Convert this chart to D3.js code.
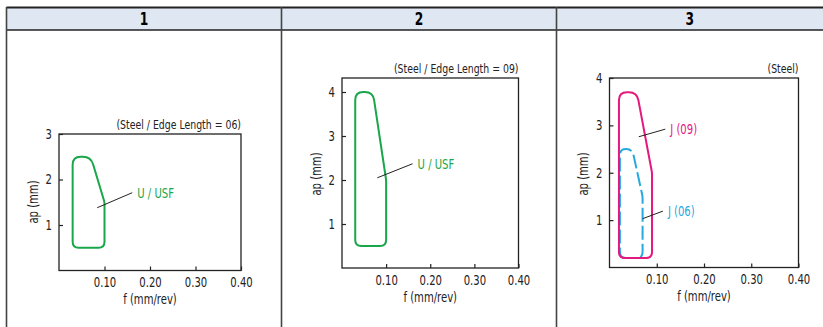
<!DOCTYPE html>
<html>
<head>
<meta charset="utf-8">
<style>
	body { margin: 0; background: #fff; }
	svg text { font-family: "DejaVu Sans Condensed", "DejaVu Sans", sans-serif; }
</style>
<script src="https://d3js.org/d3.v7.min.js"></script>
</head>
<body>
<svg width="823" height="327"></svg>
<script>

// header labels
var headers = ["1", "2", "3"];

// axis ticks
var xTicks = [0.1, 0.2, 0.3, 0.4];
var yTicks1 = [1, 2, 3];
var yTicks2 = [1, 2, 3, 4];
var yTicks3 = [1, 2, 3, 4];

// working ranges (f, ap)
var usf06 = [[0.03, 0.5], [0.03, 2.5], [0.07, 2.5], [0.1, 1.5], [0.1, 0.5]];
var usf09 = [[0.03, 0.5], [0.03, 4.0], [0.07, 4.0], [0.1, 2.0], [0.1, 0.5]];
var j09 = [[0.02, 0.2], [0.02, 3.7], [0.058, 3.7], [0.09, 2.0], [0.09, 0.2]];
var j06 = [[0.022, 0.2], [0.022, 2.5], [0.048, 2.5], [0.07, 1.5], [0.07, 0.2]];

// leader lines: [from, to]
var lead06 = [[0.084, 1.38], [0.161, 1.71]];
var lead09 = [[0.08, 2.05], [0.16, 2.37]];
var leadJ09 = [[0.062, 2.76], [0.118, 2.92]];
var leadJ06 = [[0.07, 1.03], [0.113, 1.19]];

var subtitles = ["(Steel / Edge Length = 06)", "(Steel / Edge Length = 09)", "(Steel)"];

var green = "#1aa64a", pink = "#e5187f", blue = "#27a9e0";

var svg = d3.select("svg");

// narrow the font a bit (reference uses a condensed face)
function squeeze(sel, extra) {
	sel.each(function() {
		var t = d3.select(this);
		var x = +t.attr("x") || 0, y = +t.attr("y") || 0;
		t.attr("x", null).attr("y", null)
			.attr("transform", "translate(" + x + "," + y + ")" + (extra || "") + " scale(0.8,1)");
	});
}

// table frame
var cols = [6.5, 281.5, 556.5, 823];
svg.append("rect").attr("x", cols[0]).attr("y", 7.5).attr("width", 823 - cols[0]).attr("height", 22.5)
	.attr("fill", "#dfe7f3");
svg.append("line").attr("x1", cols[0]).attr("x2", 823).attr("y1", 7.5).attr("y2", 7.5)
	.attr("stroke", "#222").attr("stroke-width", 2);
svg.append("line").attr("x1", cols[0]).attr("x2", 823).attr("y1", 30).attr("y2", 30)
	.attr("stroke", "#222").attr("stroke-width", 1.5);
cols.slice(0, 3).forEach(function(c) {
	svg.append("line").attr("x1", c).attr("x2", c).attr("y1", 7).attr("y2", 327)
		.attr("stroke", "#444").attr("stroke-width", 1.6);
});
headers.forEach(function(h, i) {
	svg.append("text").attr("x", (cols[i] + cols[i + 1]) / 2).attr("y", 19).attr("dy", "0.36em")
		.attr("text-anchor", "middle").attr("font-size", 17).attr("font-weight", "bold").text(h)
		.call(squeeze);
});

// rounded polygon through scaled points
function rounded(pts, radii) {
	var n = pts.length, d = "";
	for (var i = 0; i < n; i++) {
		var p = pts[i], a = pts[(i - 1 + n) % n], b = pts[(i + 1) % n];
		var la = Math.hypot(a[0] - p[0], a[1] - p[1]), lb = Math.hypot(b[0] - p[0], b[1] - p[1]);
		var r = Math.min(radii[i], la / 2, lb / 2);
		var p1 = [p[0] + (a[0] - p[0]) * r / la, p[1] + (a[1] - p[1]) * r / la];
		var p2 = [p[0] + (b[0] - p[0]) * r / lb, p[1] + (b[1] - p[1]) * r / lb];
		d += (i == 0 ? "M" : "L") + p1[0] + "," + p1[1] + "Q" + p[0] + "," + p[1] + " " + p2[0] + "," + p2[1];
	}
	return d + "Z";
}

function panel(opt) {
	var x = d3.scaleLinear().domain([0, 0.4]).range([opt.left, opt.right]);
	var y = d3.scaleLinear().domain([0, opt.ymax]).range([opt.bottom, opt.yTop]);
	var g = svg.append("g");

	g.append("rect").attr("x", opt.left).attr("y", opt.top)
		.attr("width", opt.right - opt.left).attr("height", opt.bottom - opt.top)
		.attr("fill", "none").attr("stroke", "#222").attr("stroke-width", 1.3);

	var ax = g.append("g").attr("transform", "translate(0," + opt.bottom + ")")
		.call(d3.axisBottom(x).tickValues(xTicks).tickSizeInner(-4).tickSizeOuter(0).tickPadding(7));
	var ay = g.append("g").attr("transform", "translate(" + opt.left + ",0)")
		.call(d3.axisLeft(y).tickValues(opt.yTicks).tickFormat(d3.format("d")).tickSizeInner(-4).tickSizeOuter(0).tickPadding(7));
	[ax, ay].forEach(function(a) {
		a.select(".domain").remove();
		a.selectAll("line").attr("stroke", "#222").attr("stroke-width", 1.2);
		a.selectAll("text").attr("font-size", 14).attr("fill", "#222")
			.style("font-family", '"DejaVu Sans Condensed", "DejaVu Sans", sans-serif')
			.call(squeeze);
	});

	g.append("text").attr("x", (opt.left + opt.right) / 2).attr("y", opt.bottom + 29).attr("dy", "0.35em")
		.attr("text-anchor", "middle").attr("font-size", 14).attr("fill", "#222").text("f (mm/rev)")
		.call(squeeze);
	g.append("text").attr("x", opt.left - 26).attr("y", opt.ylabelY)
		.attr("dy", "0.35em").attr("text-anchor", "middle").attr("font-size", 14).attr("fill", "#222").text("ap (mm)")
		.call(squeeze, " rotate(-90)");
	g.append("text").attr("x", opt.right).attr("y", opt.top - 10).attr("dy", "0.35em")
		.attr("text-anchor", "end").attr("font-size", 13).attr("fill", "#222").text(opt.subtitle)
		.call(squeeze);

	opt.shapes.forEach(function(s) {
		var pts = s.data.map(function(d) { return [x(d[0]), y(d[1])]; });
		g.append("path").attr("d", rounded(pts, [6, 8, 8, 2, 6]))
			.attr("fill", "none").attr("stroke", s.color).attr("stroke-width", 2)
			.attr("stroke-dasharray", s.dash || null);
	});
	opt.shapes.forEach(function(s) {
		g.append("line").attr("x1", x(s.lead[0][0])).attr("y1", y(s.lead[0][1]))
			.attr("x2", x(s.lead[1][0])).attr("y2", y(s.lead[1][1]))
			.attr("stroke", "#222").attr("stroke-width", 1);
		g.append("text").attr("x", x(s.lead[1][0]) + 5).attr("y", y(s.lead[1][1])).attr("dy", "0.35em")
			.attr("font-size", 14).attr("fill", s.color).text(s.label)
			.call(squeeze);
	});
}

panel({ left: 59, right: 241, top: 134, bottom: 270.5, yTop: 134, ymax: 3, yTicks: yTicks1, ylabelY: 202,
	subtitle: subtitles[0], shapes: [{ data: usf06, color: green, lead: lead06, label: "U / USF" }] });
panel({ left: 342, right: 518.5, top: 78, bottom: 268, yTop: 92, ymax: 4, yTicks: yTicks2, ylabelY: 174,
	subtitle: subtitles[1], shapes: [{ data: usf09, color: green, lead: lead09, label: "U / USF" }] });
panel({ left: 609.5, right: 798.5, top: 78, bottom: 267.5, yTop: 78, ymax: 4, yTicks: yTicks3, ylabelY: 174,
	subtitle: subtitles[2], shapes: [
		{ data: j06, color: blue, lead: leadJ06, label: "J (06)", dash: "14,4" },
		{ data: j09, color: pink, lead: leadJ09, label: "J (09)" }] });

</script>
</body>
</html>
